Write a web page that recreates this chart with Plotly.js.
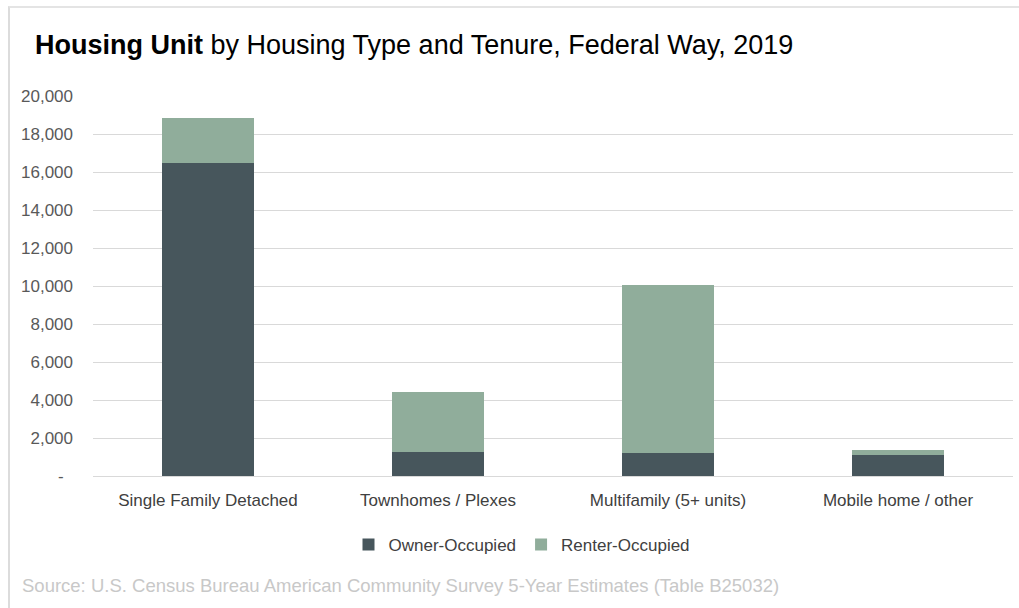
<!DOCTYPE html>
<html>
<head>
<meta charset="utf-8">
<script src="https://cdn.plot.ly/plotly-3.0.1.min.js"></script>
<style>
  html, body { margin: 0; padding: 0; background: #fff; }
  #chart { width: 1019px; height: 608px; }
  #frame { position: absolute; left: 8px; top: 6px; width: 1011px; height: 602px;
           border-left: 2px solid #dcdcdc; border-top: 2px solid #e4e4e4; pointer-events: none; box-sizing: border-box; }
</style>
</head>
<body>
<div id="chart"></div>
<div id="frame"></div>
<script>
const categories = ["Single Family Detached", "Townhomes / Plexes", "Multifamily (5+ units)", "Mobile home / other"];
const ownerOccupied = [16500, 1270, 1220, 1100];
const renterOccupied = [2350, 3170, 8830, 270];
const yTickVals = [0, 2000, 4000, 6000, 8000, 10000, 12000, 14000, 16000, 18000, 20000];
const yTickText = ["-&nbsp;&nbsp;", "2,000", "4,000", "6,000", "8,000", "10,000", "12,000", "14,000", "16,000", "18,000", "20,000"];
const sourceText = "Source: U.S. Census Bureau American Community Survey 5-Year Estimates (Table B25032)";

const traces = [
  { type: "bar", name: "Owner-Occupied", x: categories, y: ownerOccupied,
    marker: { color: "#47565c" }, hoverinfo: "x+y+name" },
  { type: "bar", name: "Renter-Occupied", x: categories, y: renterOccupied,
    marker: { color: "#90ad9b" }, hoverinfo: "x+y+name" }
];

const font = "Liberation Sans, Arial, sans-serif";
const layout = {
  width: 1019, height: 608,
  barmode: "stack",
  bargap: 0.6,
  paper_bgcolor: "#ffffff", plot_bgcolor: "#ffffff",
  margin: { l: 93, r: 6, t: 96, b: 132 },
  title: {
    text: "<b>Housing Unit</b> by Housing Type and Tenure, Federal Way, 2019",
    x: 35 / 1019, xref: "container", xanchor: "left",
    y: 1 - 45 / 608, yref: "container", yanchor: "middle",
    font: { family: font, size: 27, color: "#000000" }
  },
  xaxis: {
    type: "category",
    showgrid: false, zeroline: false, showline: false,
    ticks: "", ticklabelstandoff: 12,
    tickfont: { family: font, size: 17, color: "#404040" },
    fixedrange: true
  },
  yaxis: {
    range: [0, 20000],
    tickvals: yTickVals, ticktext: yTickText,
    showgrid: true, gridcolor: "#d9d9d9", gridwidth: 1,
    zeroline: true, zerolinecolor: "#d9d9d9", zerolinewidth: 1,
    showline: false, ticks: "", ticklabelstandoff: 19,
    tickfont: { family: font, size: 17, color: "#595959" },
    fixedrange: true
  },
  legend: {
    orientation: "h", x: (522 - 93) / 920, xanchor: "center", y: (476 - 545) / 380, yanchor: "middle",
    font: { family: font, size: 17, color: "#404040" },
    traceorder: "normal", itemwidth: 30
  },
  annotations: [{
    text: sourceText, xref: "paper", yref: "paper",
    x: (20 - 93) / 920, xanchor: "left", y: (476 - 585) / 380, yanchor: "middle",
    showarrow: false, font: { family: font, size: 18.5, color: "#c8c8c8" }
  }]
};

Plotly.newPlot("chart", traces, layout, { displayModeBar: false, staticPlot: true });
</script>
</body>
</html>
